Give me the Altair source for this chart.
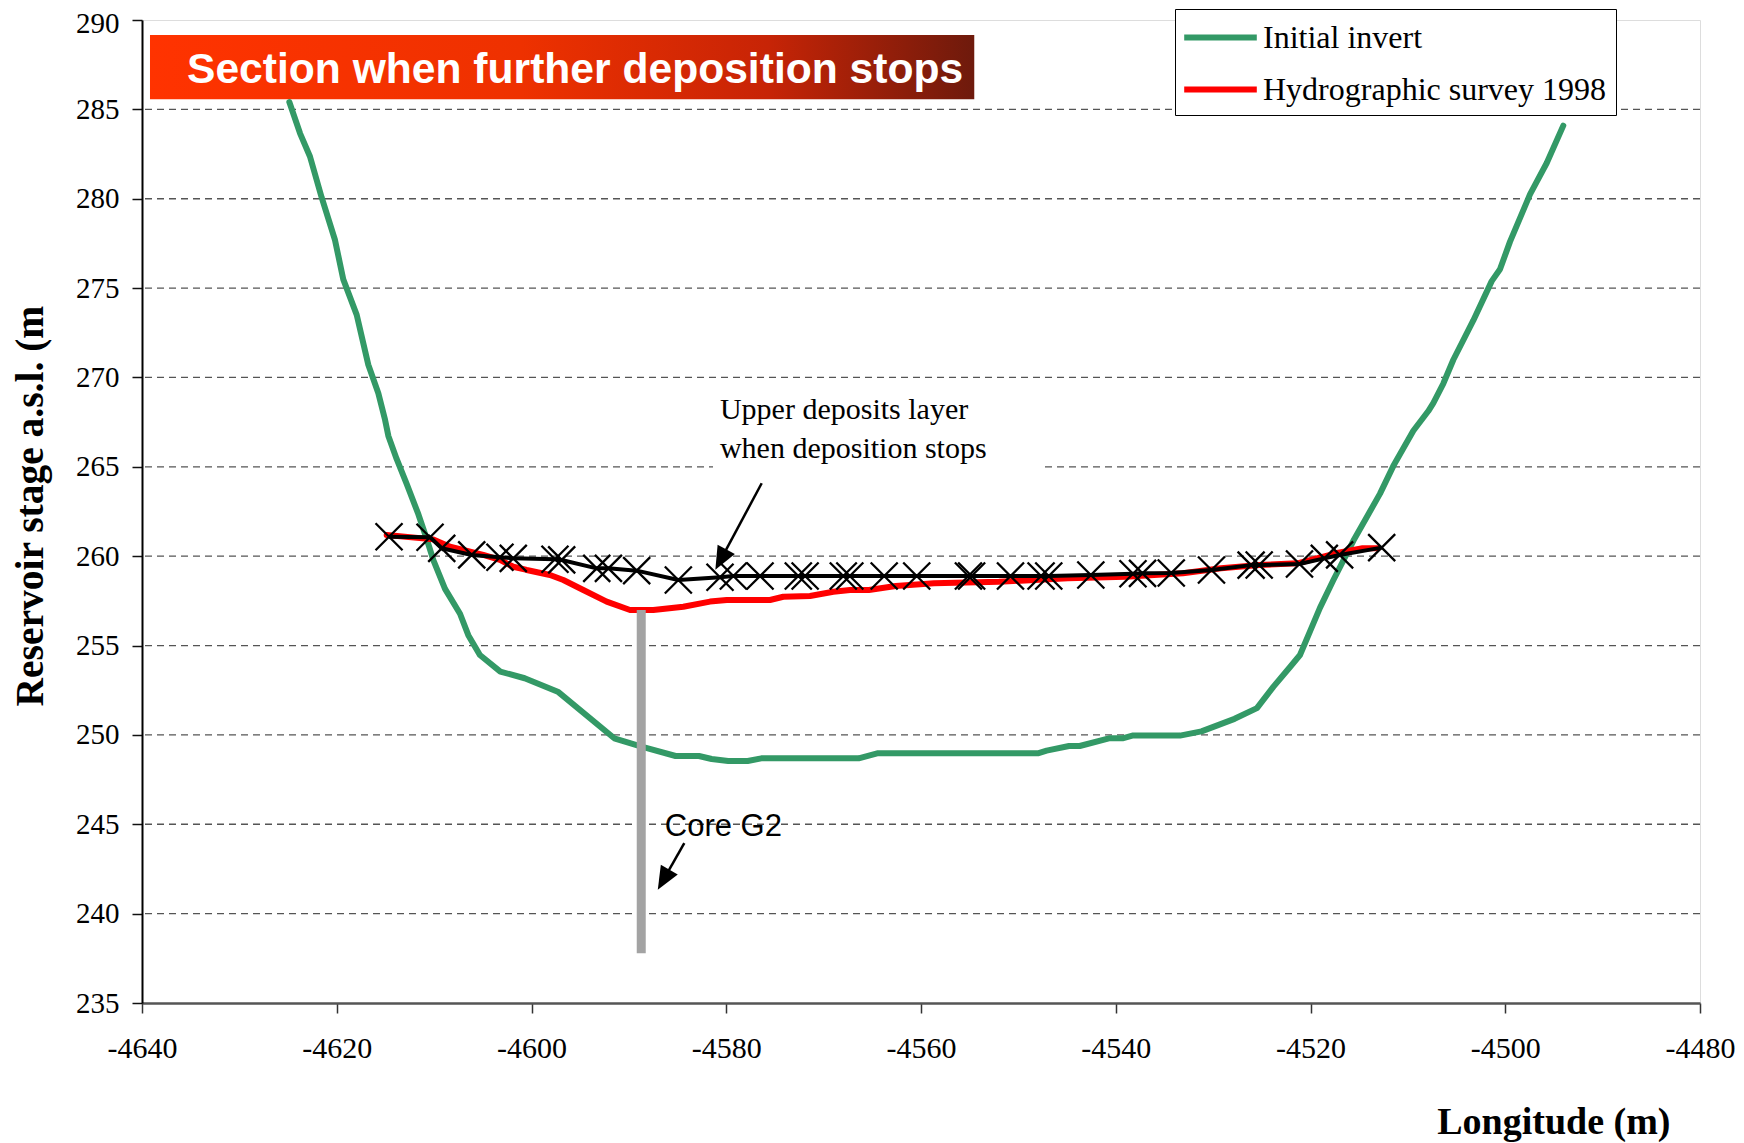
import altair as alt
import pandas as pd

# ---------------- data ----------------
green_x = [-4624.87, -4623.77, -4622.75, -4621.55, -4620.18, -4619.33, -4617.95, -4616.76,
           -4615.73, -4615.04, -4614.70, -4613.85, -4612.82, -4611.62, -4610.76, -4610.07,
           -4608.88, -4607.34, -4606.49, -4605.30, -4603.20, -4600.70, -4597.30, -4591.50,
           -4588.70, -4585.20, -4582.80, -4581.50, -4579.80, -4577.80, -4576.40, -4566.40,
           -4564.50, -4548.00, -4547.10, -4544.80, -4543.70, -4540.70, -4539.30, -4538.30,
           -4533.40, -4531.20, -4527.80, -4525.50, -4523.80, -4522.10, -4521.08, -4520.05,
           -4519.03, -4517.66, -4515.60, -4514.23, -4512.86, -4511.50, -4509.44, -4507.90,
           -4507.39, -4506.36, -4505.33, -4503.28, -4501.39, -4500.54, -4499.51, -4497.46,
           -4495.74, -4494.04]
green_y = [285.41, 283.66, 282.36, 280.07, 277.69, 275.49, 273.50, 270.71,
           269.12, 267.63, 266.73, 265.44, 264.04, 262.35, 260.96, 259.76,
           258.17, 256.78, 255.58, 254.47, 253.54, 253.17, 252.42, 249.81,
           249.34, 248.82, 248.82, 248.65, 248.54, 248.54, 248.69, 248.69,
           248.97, 248.97, 249.12, 249.38, 249.38, 249.81, 249.81, 249.96,
           249.96, 250.20, 250.90, 251.50, 252.70, 253.80, 254.47, 255.79,
           257.11, 258.65, 260.86, 262.18, 263.50, 265.04, 267.02, 268.12,
           268.56, 269.66, 270.99, 273.19, 275.39, 276.05, 277.60, 280.24,
           282.00, 284.09]

red_x = [-4614.87, -4610.08, -4608.37, -4604.95, -4603.24, -4601.87, -4600.49, -4598.10,
         -4596.73, -4594.68, -4592.28, -4589.88, -4587.49, -4584.41, -4581.67, -4579.95,
         -4575.51, -4574.14, -4571.40, -4569.00, -4567.29, -4565.35, -4562.60, -4558.68,
         -4552.00, -4544.92, -4539.00, -4533.10, -4529.19, -4525.27, -4521.34, -4517.40,
         -4514.65, -4513.08]
red_y = [261.19, 260.94, 260.53, 260.07, 259.79, 259.41, 259.23, 258.95,
         258.67, 258.11, 257.46, 256.99, 256.99, 257.17, 257.46, 257.55,
         257.55, 257.73, 257.77, 258.01, 258.11, 258.11, 258.33, 258.48,
         258.57, 258.76, 258.85, 259.04, 259.32, 259.51, 259.60, 260.16,
         260.44, 260.44]

dep_x = [-4614.63, -4610.42, -4609.22, -4606.14, -4603.24, -4601.87, -4597.59, -4596.90,
         -4593.30, -4592.10, -4589.20, -4584.92, -4580.64, -4579.27, -4576.53, -4572.60,
         -4571.90, -4567.98, -4567.31, -4563.78, -4560.44, -4555.13, -4554.80, -4550.81,
         -4547.67, -4546.88, -4542.56, -4538.23, -4537.25, -4534.30, -4530.17, -4526.10,
         -4525.27, -4521.13, -4518.58, -4517.01, -4512.69]
dep_y = [261.09, 261.06, 260.44, 260.07, 259.94, 259.88, 259.83, 259.79,
         259.32, 259.32, 259.19, 258.67, 258.82, 258.89, 258.89, 258.89,
         258.89, 258.89, 258.89, 258.89, 258.89, 258.89, 258.89, 258.89,
         258.89, 258.89, 258.95, 259.02, 259.04, 259.06, 259.23, 259.50,
         259.51, 259.56, 259.88, 260.07, 260.48]

series_names = ["Initial invert", "Hydrographic survey 1998"]
series_colors = ["#339966", "#FF0000"]

core_x = [-4588.73]
core_top = [256.99]
core_bottom = [237.78]

x_ticks = list(range(-4640, -4479, 20))
y_ticks = list(range(235, 291, 5))
y_grid = list(range(240, 286, 5))

# annotations (data coordinates)
title_text = ["Section when further deposition stops"]
title_box_x = [-4639.18, -4554.53]
title_box_y = [289.16, 285.56]
title_text_pos = [-4635.38, 286.46]

upper_text = ["Upper deposits layer\nwhen deposition stops"]
upper_text_pos = [-4580.65, 267.70]
upper_bg_x = [-4581.36, -4547.50]
upper_bg_y = [268.74, 264.54]

core_text = ["Core G2"]
core_text_pos = [-4580.30, 244.35]

arrow_x1 = [-4576.36, -4584.31]
arrow_y1 = [264.08, 243.94]
arrow_x2 = [-4580.56, -4586.44]
arrow_y2 = [259.81, 241.90]
arrow_angle = [208.2, 210.0]

# ---------------- chart ----------------
X0, X1 = -4640, -4480
Y0, Y1 = 235, 290
xs = alt.Scale(domain=[X0, X1], nice=False, zero=False)
ys = alt.Scale(domain=[Y0, Y1], nice=False, zero=False)

SERIF = "Liberation Serif"
SANS = "Liberation Sans"

lines_df = pd.DataFrame({
    "x": green_x + red_x,
    "y": green_y + red_y,
    "series": [series_names[0]] * len(green_x) + [series_names[1]] * len(red_x),
    "order": list(range(len(green_x))) + list(range(len(red_x))),
})
dep_df = pd.DataFrame({"x": dep_x, "y": dep_y})

x_axis = alt.Axis(
    values=x_ticks, grid=False, title="Longitude (m)", labelFlush=False,
    labelExpr="'' + datum.value", labelFont=SERIF, labelFontSize=30, labelColor="black",
    labelPadding=20, tickSize=10, tickColor="#333", tickWidth=1.5,
    domainColor="#555", domainWidth=2.5,
    titleFont=SERIF, titleFontSize=38, titleFontWeight="bold", titleColor="black",
    titleX=1528, titleY=130, titleAlign="right", titleBaseline="alphabetic",
)
y_axis = alt.Axis(
    values=y_ticks, grid=False, labelFlush=False,
    title="Reservoir stage a.s.l. (m",
    labelExpr="'' + datum.value", labelFont=SERIF, labelFontSize=29, labelColor="black",
    labelOffset={"condition": {"test": "datum.value == 290", "value": 3}, "value": 0},
    labelPadding=13, tickSize=10, tickColor="#111", tickWidth=1.5,
    domainColor="black", domainWidth=2,
    titleFont=SERIF, titleFontSize=39.5, titleFontWeight="bold", titleColor="black",
    titleAngle=270, titleX=-100, titleY=686, titleAlign="left", titleBaseline="alphabetic",
)

X = alt.X("x:Q", scale=xs, axis=x_axis)
Y = alt.Y("y:Q", scale=ys, axis=y_axis)

grid_df = pd.DataFrame({"y": y_grid})
gridlines = alt.Chart(grid_df).mark_rule(color="#555", strokeWidth=1.3, strokeDash=[7, 5]).encode(y=Y)

series_lines = alt.Chart(lines_df).mark_line(strokeWidth=6, strokeCap="round", strokeJoin="round").encode(
    x=X, y=Y,
    order="order:Q",
    color=alt.Color(
        "series:N",
        scale=alt.Scale(domain=series_names, range=series_colors),
        sort=series_names,
        legend=alt.Legend(
            title=None, orient="none", legendX=1033, legendY=-11,
            symbolType="M-2.2,0H2.2", symbolSize=1089, symbolStrokeWidth=6,
            symbolOffset=17, labelOffset=23,
            labelFont=SERIF, labelFontSize=32, labelColor="black", labelLimit=600,
            rowPadding=16, padding=9,
            strokeColor="black", fillColor="white",
        ),
    ),
)

dep_line = alt.Chart(dep_df).mark_line(color="black", strokeWidth=4, strokeJoin="round").encode(x=X, y=Y)
dep_marks = alt.Chart(dep_df).mark_point(
    shape="M-1,-1L1,1M-1,1L1,-1", size=729, filled=False, color="black", strokeWidth=2.3, opacity=1
).encode(x=X, y=Y)

core_df = pd.DataFrame({"x": core_x, "y": core_top, "y2": core_bottom})
core_bar = alt.Chart(core_df).mark_rule(color="#a3a3a3", strokeWidth=9).encode(
    x=X, y=Y, y2="y2:Q")

tb_df = pd.DataFrame({"x": [title_box_x[0]], "x2": [title_box_x[1]],
                      "y": [title_box_y[0]], "y2": [title_box_y[1]]})
title_box = alt.Chart(tb_df).mark_rect(
    color=alt.LinearGradient(
        gradient="linear", x1=0, x2=1, y1=0, y2=0,
        stops=[alt.GradientStop(offset=0, color="#FF3300"),
               alt.GradientStop(offset=0.45, color="#EE3100"),
               alt.GradientStop(offset=0.75, color="#C72406"),
               alt.GradientStop(offset=1, color="#6E1A0C")],
    )
).encode(x=X, x2="x2:Q", y=Y, y2="y2:Q")

tt_df = pd.DataFrame({"x": [title_text_pos[0]], "y": [title_text_pos[1]], "t": title_text})
title_txt = alt.Chart(tt_df).mark_text(
    font=SANS, fontWeight="bold", fontSize=42.6, color="white", align="left", baseline="alphabetic"
).encode(x=X, y=Y, text="t:N")

ub_df = pd.DataFrame({"x": [upper_bg_x[0]], "x2": [upper_bg_x[1]],
                      "y": [upper_bg_y[0]], "y2": [upper_bg_y[1]]})
upper_bg = alt.Chart(ub_df).mark_rect(color="white").encode(x=X, x2="x2:Q", y=Y, y2="y2:Q")

ut_df = pd.DataFrame({"x": [upper_text_pos[0]], "y": [upper_text_pos[1]], "t": upper_text})
upper_txt = alt.Chart(ut_df).mark_text(
    font=SERIF, fontSize=30, color="black", align="left", baseline="alphabetic",
    lineBreak="\n", lineHeight=39
).encode(x=X, y=Y, text="t:N")

ct_df = pd.DataFrame({"x": [core_text_pos[0]], "y": [core_text_pos[1]], "t": core_text})
core_txt = alt.Chart(ct_df).mark_text(
    font=SANS, fontSize=31, color="black", align="center", baseline="alphabetic"
).encode(x=X, y=Y, text="t:N")

ar_df = pd.DataFrame({"x": arrow_x1, "y": arrow_y1, "x2": arrow_x2, "y2": arrow_y2, "a": arrow_angle})
arrow_lines = alt.Chart(ar_df).mark_rule(color="black", strokeWidth=2.5).encode(
    x=X, y=Y, x2="x2:Q", y2="y2:Q")
arrow_heads = alt.Chart(ar_df).mark_point(
    shape="M0,-1L0.85,1L-0.85,1Z", size=529, filled=True, color="black", opacity=1
).encode(
    x=alt.X("x2:Q", scale=xs, axis=x_axis), y=alt.Y("y2:Q", scale=ys, axis=y_axis),
    angle=alt.Angle("a:Q", scale=None),
)

chart = alt.layer(
    gridlines, title_box, title_txt, upper_bg,
    series_lines, core_bar, dep_line, dep_marks,
    arrow_lines, arrow_heads, upper_txt, core_txt,
).properties(
    width=1558, height=983,
    autosize=alt.AutoSizeParams(type="none"),
    padding={"left": 134, "top": 12, "right": 36, "bottom": 140},
).configure_view(
    stroke="#8a8a8a", strokeWidth=2
).configure(background="white")

chart.save("out.html", embed_options={"renderer": "svg", "actions": False})
